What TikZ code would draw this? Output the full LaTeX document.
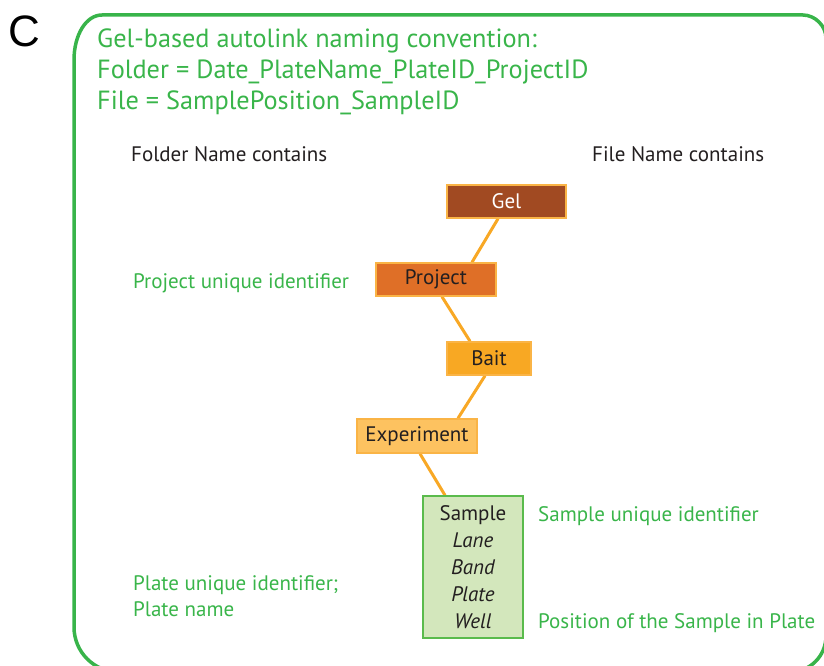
\documentclass[tikz,border=0pt]{standalone}
\usepackage{fontspec}
\setmainfont{PT Sans}
\newfontfamily\letterfont{Liberation Sans}
\usetikzlibrary{backgrounds}

\definecolor{labelgreen}{RGB}{57,181,74}
\definecolor{framegreen}{RGB}{56,180,74}
\definecolor{inkdark}{RGB}{35,31,32}
\definecolor{gelfill}{RGB}{161,74,34}
\definecolor{projfill}{RGB}{223,111,39}
\definecolor{baitfill}{RGB}{248,168,35}
\definecolor{expfill}{RGB}{253,194,96}
\definecolor{boxedge}{RGB}{250,180,70}
\definecolor{samplefill}{RGB}{211,231,188}
\definecolor{sampleedge}{RGB}{90,187,76}
\definecolor{linkorange}{RGB}{248,168,37}

\tikzset{
  levelbox/.style={draw=boxedge, line width=1.5pt, minimum height=33pt,
    inner sep=0pt, font=\fontsize{21}{24}\selectfont, text=inkdark},
  greentext/.style={text=labelgreen, inner sep=0pt, anchor=base west,
    font=\fontsize{21}{24}\selectfont},
  blacktext/.style={text=inkdark, inner sep=0pt, anchor=base west,
    font=\fontsize{21}{24}\selectfont},
  headtext/.style={text=labelgreen, inner sep=0pt, anchor=base west,
    font=\fontsize{26.3}{30}\selectfont},
  sampleline/.style={text=inkdark, inner sep=0pt, anchor=base,
    font=\fontsize{21}{24}\selectfont},
  link/.style={draw=linkorange, line width=3pt},
}

\begin{document}
\begin{tikzpicture}[x=1pt, y=-1pt]
\useasboundingbox (0,0) rectangle (824,666);

% outer frame, partly running off the page
\begin{scope}
\clip (0,0) rectangle (824,666);
\draw[framegreen, line width=3.5pt]
  (74,340) -- (74,60) .. controls (74,35) and (86,15) .. (102,15)
  -- (803,15) .. controls (815,15) and (826,26) .. (826,38)
  -- (826,636) .. controls (826,656) and (810,672) .. (790,672)
  -- (119,672) .. controls (94,672) and (74,652) .. (74,627) -- cycle;
\end{scope}

% panel letter
\node[anchor=base west, inner sep=0pt, text=black,
  font=\letterfont\fontsize{44}{48}\selectfont] (letter) at (8,47) {C};

% heading
\node[headtext] (head1) at (97,48) {Gel-based autolink naming convention:};
\node[headtext] (head2) at (97,79) {Folder = Date\_PlateName\_PlateID\_ProjectID};
\node[headtext] (head3) at (97,110) {File = SamplePosition\_SampleID};

% column captions
\node[blacktext] (foldercap) at (131,161) {Folder Name contains};
\node[blacktext] (filecap) at (592,161) {File Name contains};

% hierarchy boxes
\node[levelbox, fill=gelfill, text=white, minimum width=119pt] (gel) at (506.5,201.5) {Gel};
\node[levelbox, fill=projfill, minimum width=120pt] (project) at (436,279.5) {Project};
\node[levelbox, fill=baitfill, minimum width=84pt] (bait) at (489,358.5) {Bait};
\node[levelbox, fill=expfill, minimum width=120pt, minimum height=34pt] (experiment) at (417,436) {Experiment};
\node[draw=sampleedge, fill=samplefill, line width=1.5pt, minimum width=100pt,
  minimum height=142pt, inner sep=0pt] (sample) at (473,567) {};

% sample box contents
\node[sampleline] (s1) at (473,520) {Sample};
\node[sampleline, font=\fontsize{21}{24}\selectfont\itshape] (s2) at (473,547) {Lane};
\node[sampleline, font=\fontsize{21}{24}\selectfont\itshape] (s3) at (473,574) {Band};
\node[sampleline, font=\fontsize{21}{24}\selectfont\itshape] (s4) at (473,601) {Plate};
\node[sampleline, font=\fontsize{21}{24}\selectfont\itshape] (s5) at (473,628) {Well};

% connectors between levels
\begin{scope}[on background layer]
\draw[link] ([xshift=-8.5pt]gel.south) -- ([xshift=36pt]project.north);
\draw[link] ([xshift=6pt]project.south) -- ([xshift=-19pt]bait.north);
\draw[link] ([xshift=-4pt]bait.south) -- ([xshift=41pt]experiment.north);
\draw[link] ([xshift=3pt]experiment.south) -- ([xshift=-28pt]sample.north);
\end{scope}

% annotations
\node[greentext] (projid) at (133,288) {Project unique identifier};
\node[greentext] (sampleid) at (538,521) {Sample unique identifier};
\node[greentext] (plateid) at (133,590) {Plate unique identifier;};
\node[greentext] (platename) at (133,616) {Plate name};
\node[greentext] (position) at (538,628) {Position of the Sample in Plate};
\end{tikzpicture}
\end{document}
